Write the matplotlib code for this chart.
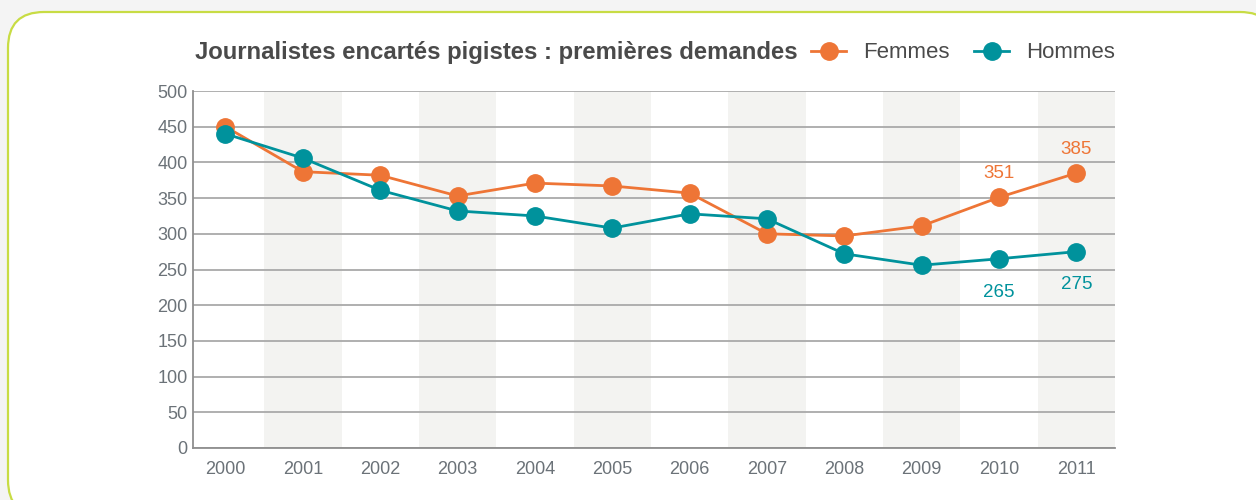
import matplotlib
matplotlib.use("Agg")
import matplotlib.pyplot as plt
from matplotlib.patches import FancyBboxPatch
from matplotlib.lines import Line2D

plt.rcParams['font.family'] = ['Liberation Sans', 'DejaVu Sans']

years = ['2000', '2001', '2002', '2003', '2004', '2005',
         '2006', '2007', '2008', '2009', '2010', '2011']
femmes = [450, 387, 382, 353, 371, 367, 357, 300, 297, 311, 351, 385]
hommes = [440, 406, 361, 332, 325, 308, 328, 321, 272, 256, 265, 275]
yticks = [0, 50, 100, 150, 200, 250, 300, 350, 400, 450, 500]

ORANGE = '#ee7536'
TEAL = '#00929c'
TEXT = '#6b7278'

W, H = 1256, 500
fig = plt.figure(figsize=(W / 100, H / 100), dpi=100)
fig.patch.set_facecolor('#f4f4f4')

# white card with a rounded green border
card = FancyBboxPatch((8 / W, 1 - 516 / H), (1276 - 8) / W, (516 - 12) / H,
                      boxstyle='round,pad=0,rounding_size=%f' % (36 / W),
                      transform=fig.transFigure, facecolor='white',
                      edgecolor='#c8dc44', linewidth=1.6,
                      mutation_aspect=W / H, zorder=-1)
fig.patches.append(card)

ax = fig.add_axes([193 / W, 1 - 448 / H, (1115 - 193) / W, (448 - 91) / H])
ax.set_facecolor('none')
ax.set_zorder(1)

x = list(range(len(years)))

# shaded bands behind every other year
for i in x:
    if i % 2 == 1:
        ax.axvspan(i - 0.5, i + 0.5, color='#f3f3f1', zorder=0, lw=0)

ax.set_ylim(0, 500)
ax.set_xlim(-0.42, 11.5)
ax.set_yticks(yticks)
ax.set_xticks(x)
ax.set_xticklabels(years)
ax.yaxis.grid(True, color='#a9a9a9', linewidth=1.3, zorder=1)
ax.set_axisbelow(True)
ax.tick_params(length=0, labelsize=13, colors=TEXT, pad=4)
ax.tick_params(axis='x', pad=9)
for s in ['top', 'right']:
    ax.spines[s].set_visible(False)
for s in ['left', 'bottom']:
    ax.spines[s].set_color('#8f8f8f')
    ax.spines[s].set_linewidth(1.3)

ax.plot(x, femmes, color=ORANGE, lw=2, marker='o', ms=12.5, zorder=3)
ax.plot(x, hommes, color=TEAL, lw=2, marker='o', ms=12.5, zorder=4)

# value labels on the last two years
for i in (10, 11):
    ax.annotate(str(femmes[i]), (x[i], femmes[i]), xytext=(0, 17),
                textcoords='offset points', ha='center', va='center',
                fontsize=13.5, color=ORANGE)
    ax.annotate(str(hommes[i]), (x[i], hommes[i]), xytext=(0, -24),
                textcoords='offset points', ha='center', va='center',
                fontsize=13.5, color=TEAL)

fig.text(195 / W, 1 - 53 / H, 'Journalistes encartés pigistes : premières demandes',
         ha='left', va='center', fontsize=17.2, fontweight='bold', color='#4a4a4a')

handles = [Line2D([], [], color=ORANGE, lw=2, marker='o', ms=12.5),
           Line2D([], [], color=TEAL, lw=2, marker='o', ms=12.5)]
leg = fig.legend(handles, ['Femmes', 'Hommes'], ncol=2, frameon=False,
                 loc='center right', bbox_to_anchor=(1135 / W, 1 - 53 / H),
                 fontsize=16, handlelength=1.6, handletextpad=0.75,
                 columnspacing=1.1)
for t in leg.get_texts():
    t.set_color('#4a4a4a')

fig.savefig('out.png', dpi=100, facecolor=fig.get_facecolor())
